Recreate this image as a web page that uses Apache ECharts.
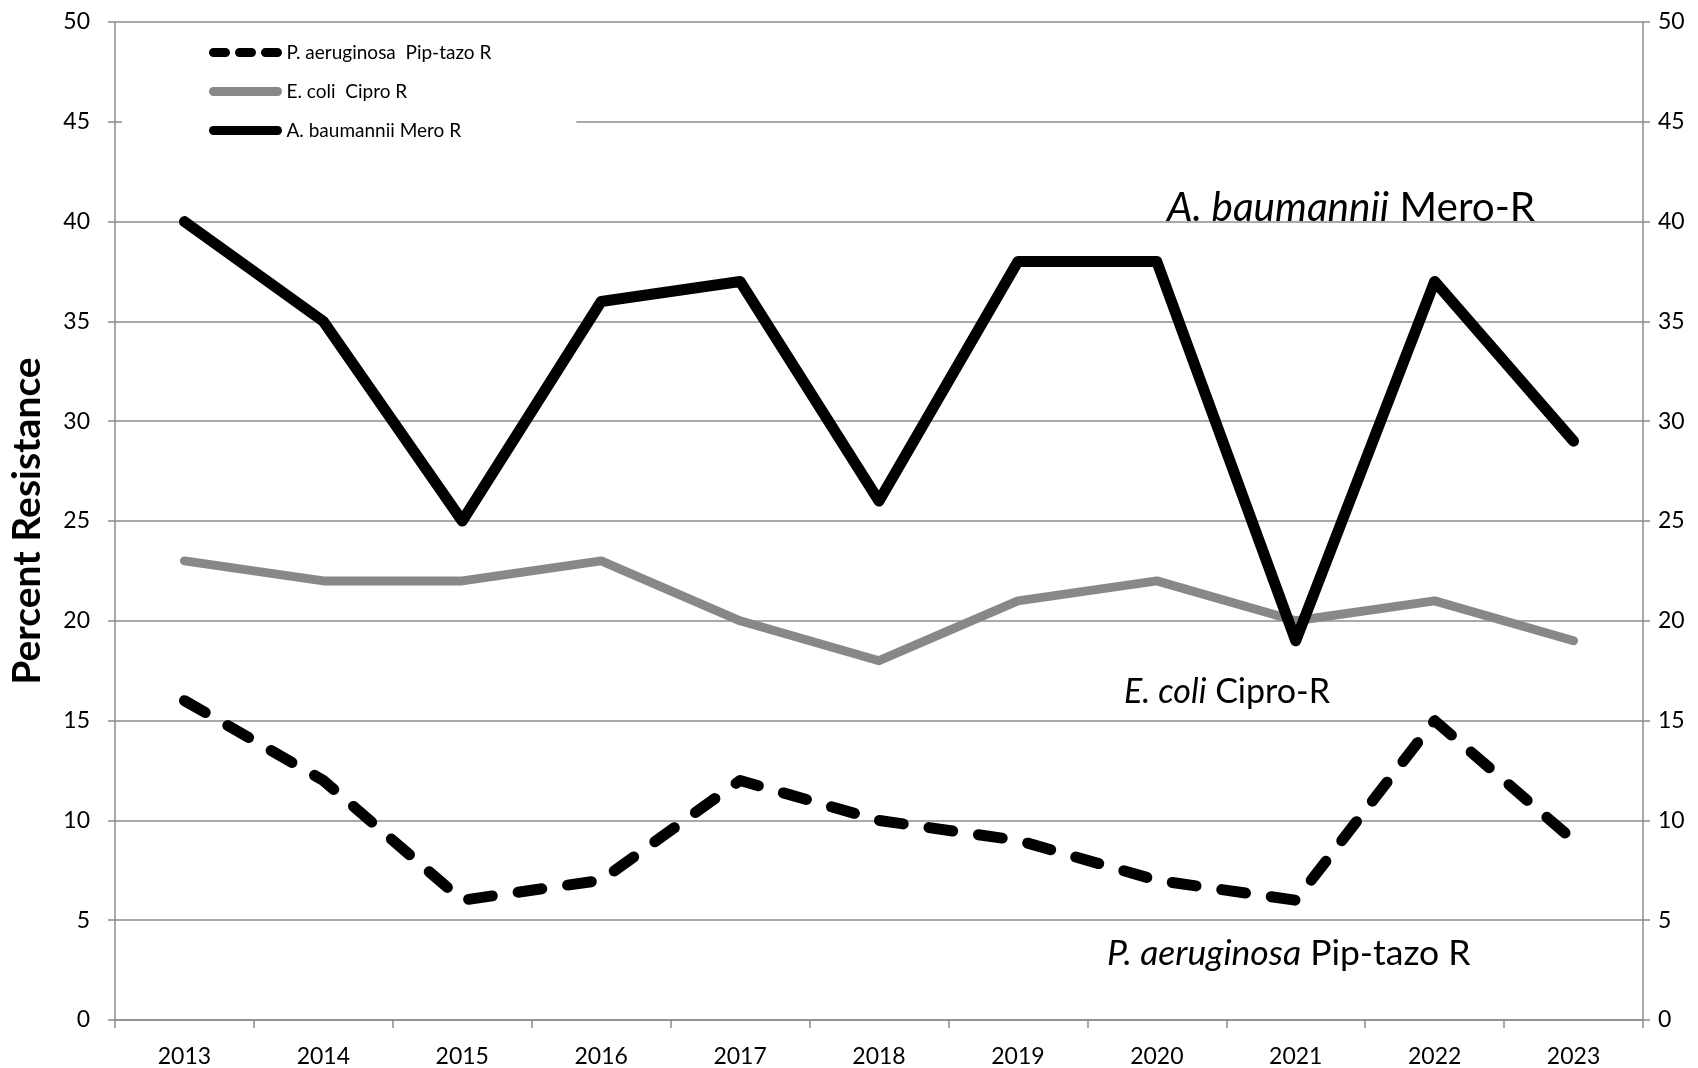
<!DOCTYPE html>
<html><head><meta charset="utf-8">
<script src="https://cdn.jsdelivr.net/npm/echarts@6/dist/echarts.min.js"></script>
<style>html,body{margin:0;padding:0;background:#fff}#c{width:1698px;height:1068px}</style>
</head><body><div id="c"></div>
<script>
const years = ['2013','2014','2015','2016','2017','2018','2019','2020','2021','2022','2023'];
const pAeruginosa = [16, 12, 6, 7, 12, 10, 9, 7, 6, 15, 9];
const eColi = [23, 22, 22, 23, 20, 18, 21, 22, 20, 21, 19];
const aBaumannii = [40, 35, 25, 36, 37, 26, 38, 38, 19, 37, 29];
const yTicks = [0, 5, 10, 15, 20, 25, 30, 35, 40, 45, 50];

const F = 'Lato, "Open Sans", sans-serif';
const gridColor = '#8c8c8c';
const chart = echarts.init(document.getElementById('c'));
const yAxisCommon = {
  type: 'value', min: yTicks[0], max: yTicks[yTicks.length-1], interval: 5,
  axisLine: {show: true, lineStyle: {color: gridColor, width: 1.5}},
  axisTick: {show: true, length: 7, lineStyle: {color: gridColor, width: 1.5}},
  axisLabel: {color: '#000', fontFamily: F, fontSize: 23}
};
const hideSym = {opacity: 0};
chart.setOption({
  animation: false,
  backgroundColor: '#fff',
  grid: {left: 113, right: 55, top: 22, bottom: 48, containLabel: false},
  legend: {
    left: 122, top: 32, orient: 'vertical', z: 10,
    backgroundColor: '#fff',
    padding: [11, 85, 9, 87],
    itemWidth: 64, itemHeight: 14, itemGap: 20,
    textStyle: {fontFamily: F, fontSize: 19, color: '#000', padding: [0, 0, 0, 4]},
    data: [
      {name: 'P. aeruginosa  Pip-tazo R', itemStyle: hideSym, lineStyle: {width: 9, type: [12, 14], cap: 'round', color: '#000'}},
      {name: 'E. coli  Cipro R', itemStyle: hideSym, lineStyle: {width: 9, cap: 'round', color: '#888'}},
      {name: 'A. baumannii Mero R', itemStyle: hideSym, lineStyle: {width: 9, cap: 'round', color: '#000'}}
    ]
  },
  xAxis: {
    type: 'category', data: years, boundaryGap: true,
    axisLine: {lineStyle: {color: gridColor, width: 1.5}},
    axisTick: {show: true, length: 8, lineStyle: {color: gridColor, width: 1.5}},
    axisLabel: {color: '#000', fontFamily: F, fontSize: 23, margin: 25}
  },
  yAxis: [
    Object.assign({}, yAxisCommon, {
      position: 'left',
      splitLine: {show: true, lineStyle: {color: gridColor, width: 1.5}},
      axisLabel: {color: '#000', fontFamily: F, fontSize: 23, margin: 25},
      name: 'Percent Resistance', nameLocation: 'middle', nameRotate: 90, nameGap: 68,
      nameTextStyle: {fontFamily: F, fontSize: 39, fontWeight: 'bold', color: '#000'}
    }),
    Object.assign({}, yAxisCommon, {
      position: 'right',
      splitLine: {show: false},
      axisLabel: {color: '#000', fontFamily: F, fontSize: 23, margin: 15}
    })
  ],
  series: [
    {name: 'P. aeruginosa  Pip-tazo R', type: 'line', data: pAeruginosa, symbol: 'none', z: 5,
     lineStyle: {color: '#000', width: 11, type: [24, 26], cap: 'round', join: 'round'},
     itemStyle: {color: '#000'}},
    {name: 'E. coli  Cipro R', type: 'line', data: eColi, symbol: 'none', z: 4,
     lineStyle: {color: '#888', width: 9, cap: 'round', join: 'round'},
     itemStyle: {color: '#888'}},
    {name: 'A. baumannii Mero R', type: 'line', data: aBaumannii, symbol: 'none', z: 6,
     lineStyle: {color: '#000', width: 11, cap: 'round', join: 'round'},
     itemStyle: {color: '#000'}}
  ],
  graphic: [
    {type: 'text', left: 1167, top: 187, z: 100,
     style: {text: '{i|A. baumannii} Mero-R', font: '40.5px ' + F, fill: '#000',
       rich: {i: {fontStyle: 'italic', fontSize: 40.5, fontFamily: F}}}},
    {type: 'text', left: 1124, top: 675, z: 100,
     style: {text: '{i|E. coli} Cipro-R', font: '34px ' + F, fill: '#000',
       rich: {i: {fontStyle: 'italic', fontSize: 34, fontFamily: F}}}},
    {type: 'text', left: 1107, top: 936, z: 100,
     style: {text: '{i|P. aeruginosa} Pip-tazo R', font: '35.5px ' + F, fill: '#000',
       rich: {i: {fontStyle: 'italic', fontSize: 35.5, fontFamily: F}}}}
  ]
});
</script></body></html>
